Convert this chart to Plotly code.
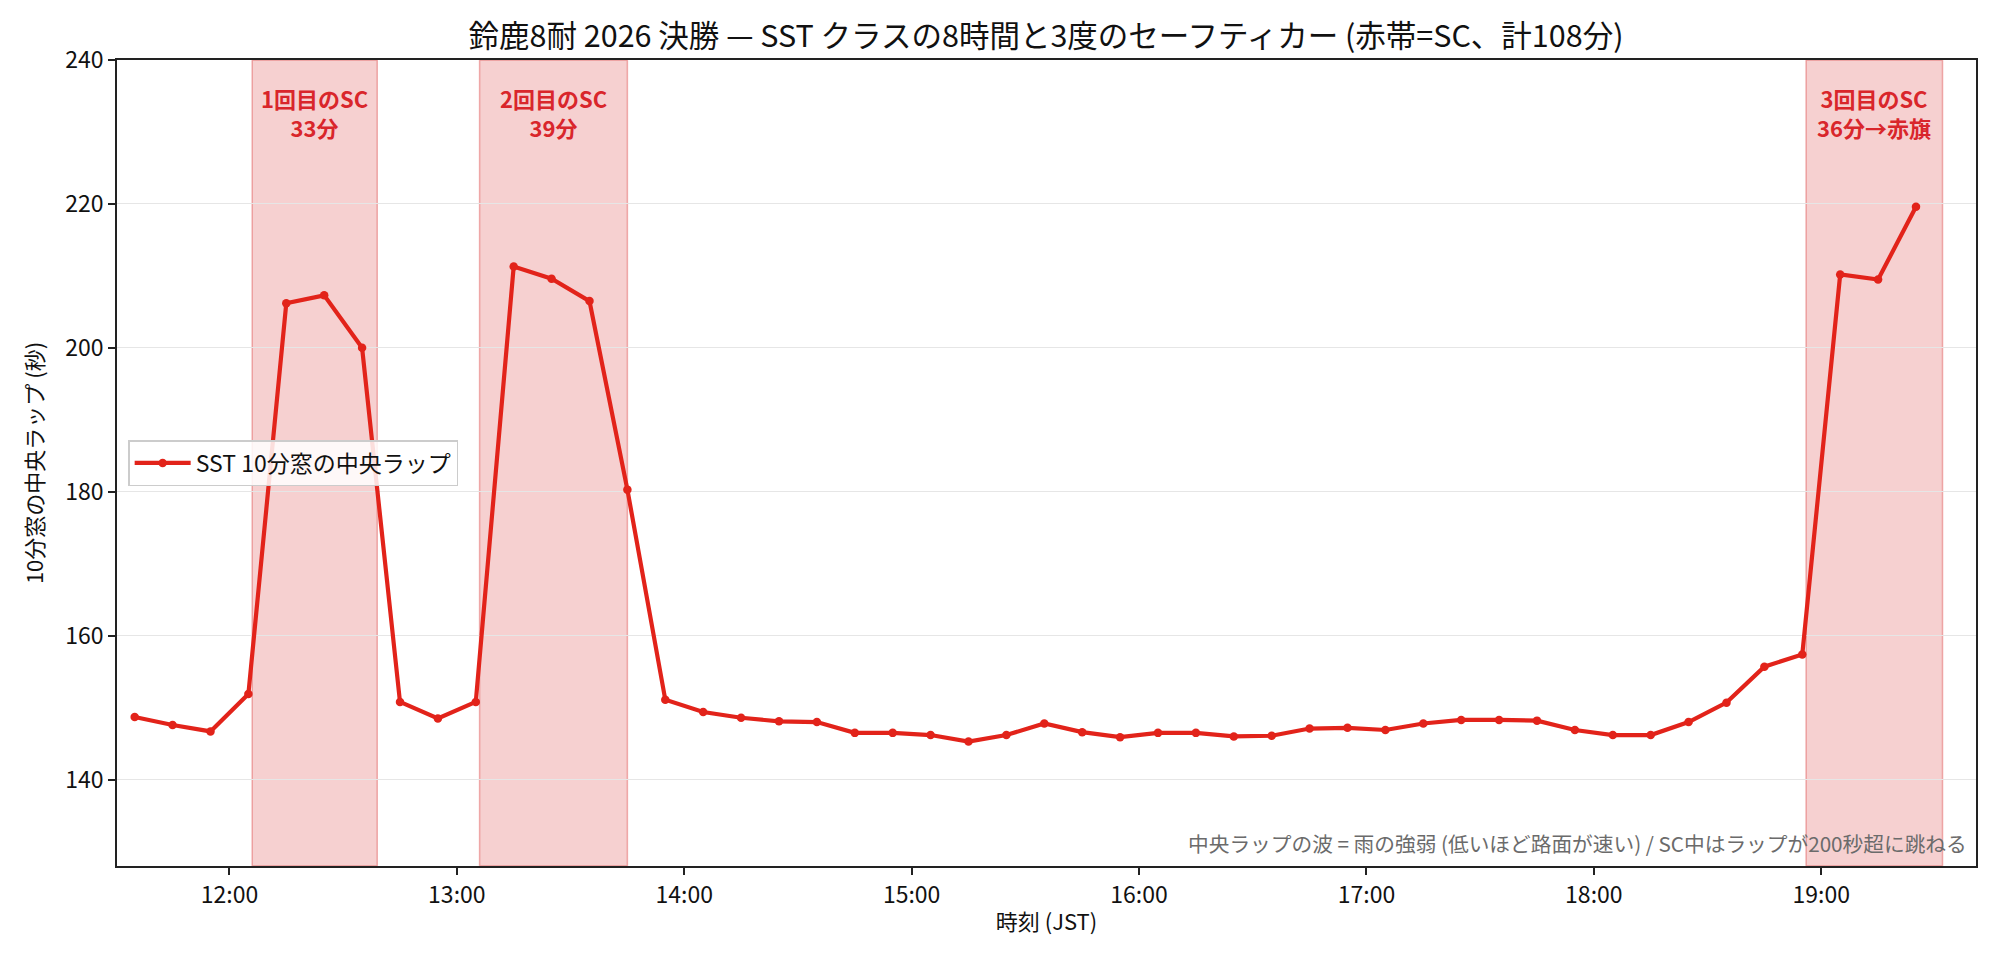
import plotly.graph_objects as go

# 10-minute window centres (JST) and SST median lap (seconds)
times = [
    "11:35", "11:45", "11:55", "12:05", "12:15", "12:25", "12:35", "12:45",
    "12:55", "13:05", "13:15", "13:25", "13:35", "13:45", "13:55", "14:05",
    "14:15", "14:25", "14:35", "14:45", "14:55", "15:05", "15:15", "15:25",
    "15:35", "15:45", "15:55", "16:05", "16:15", "16:25", "16:35", "16:45",
    "16:55", "17:05", "17:15", "17:25", "17:35", "17:45", "17:55", "18:05",
    "18:15", "18:25", "18:35", "18:45", "18:55", "19:05", "19:15", "19:25",
]
median_lap = [
    148.7, 147.6, 146.7, 151.9, 206.2, 207.3, 200.0, 150.8,
    148.5, 150.8, 211.3, 209.6, 206.5, 180.3, 151.1, 149.4,
    148.6, 148.1, 148.0, 146.5, 146.5, 146.2, 145.3, 146.2,
    147.8, 146.6, 145.9, 146.5, 146.5, 146.0, 146.1, 147.1,
    147.2, 146.9, 147.8, 148.3, 148.3, 148.2, 146.9, 146.2,
    146.2, 148.0, 150.7, 155.7, 157.4, 210.2, 209.5, 219.6,
]

# safety car periods
sc_start = ["12:06", "13:06", "18:56"]
sc_end = ["12:39", "13:45", "19:32"]
sc_labels = ["1回目のSC<br>33分", "2回目のSC<br>39分", "3回目のSC<br>36分→赤旗"]

DAY = "2026-07-26 "
RED = "#e2231a"
FONT = "Noto Sans CJK JP"


def ts(t):
    return DAY + t + ":00"


def to_min(t):
    return int(t[:2]) * 60 + int(t[3:])


fig = go.Figure()

for s, e, lab in zip(sc_start, sc_end, sc_labels):
    fig.add_vrect(
        x0=ts(s), x1=ts(e),
        fillcolor="rgba(214,39,40,0.22)",
        line=dict(color="rgba(214,39,40,0.35)", width=1.5),
        layer="below",
    )
    m = (to_min(s) + to_min(e)) / 2
    mid = "%02d:%02d:%02d" % (m // 60, m % 60, round((m % 1) * 60))
    fig.add_annotation(
        x=DAY + mid, y=0.975, xref="x", yref="paper",
        text="<b>" + lab + "</b>", showarrow=False,
        yanchor="top", align="center",
        font=dict(family=FONT, size=22, color="#d9262b"),
    )

fig.add_trace(go.Scatter(
    x=[ts(t) for t in times], y=median_lap,
    mode="lines+markers",
    name="SST 10分窓の中央ラップ",
    line=dict(color=RED, width=4.2),
    marker=dict(color=RED, size=8.5),
))

fig.add_annotation(
    x=0.996, y=0.008, xref="paper", yref="paper",
    text="中央ラップの波 = 雨の強弱 (低いほど路面が速い) / SC中はラップが200秒超に跳ねる",
    showarrow=False, xanchor="right", yanchor="bottom",
    font=dict(family=FONT, size=20.7, color="#6b6b6b"),
)

axis_common = dict(
    showline=True, linecolor="#222", linewidth=1.8, mirror=True,
    ticks="outside", ticklen=7, tickcolor="#222", tickwidth=1.5,
    tickfont=dict(family=FONT, size=23, color="#111"),
    zeroline=False,
)

fig.update_layout(
    width=2000, height=960,
    paper_bgcolor="white", plot_bgcolor="white",
    margin=dict(l=109, r=32, t=52, b=102),
    font=dict(family=FONT, color="#111"),
    title=dict(
        text="鈴鹿8耐 2026 決勝 — SST クラスの8時間と3度のセーフティカー (赤帯=SC、計108分)",
        x=0.519, xanchor="center", y=0.971, yanchor="middle",
        font=dict(family=FONT, size=30.5, color="#111"),
    ),
    xaxis=dict(
        axis_common,
        type="date",
        range=[DAY + "11:30:20", DAY + "19:40:50"],
        dtick=3600000, tick0=DAY + "12:00:00",
        tickformat="%H:%M",
        showgrid=False,
        title=dict(text="時刻 (JST)", font=dict(family=FONT, size=22), standoff=6),
    ),
    yaxis=dict(
        axis_common,
        range=[128, 240],
        tickvals=[140, 160, 180, 200, 220, 240],
        showgrid=True, gridcolor="#e6e6e6", gridwidth=1.3,
        title=dict(text="10分窓の中央ラップ (秒)", font=dict(family=FONT, size=22), standoff=16),
    ),
    legend=dict(
        x=0.006, y=0.5, xanchor="left", yanchor="middle",
        itemwidth=56,
        bgcolor="rgba(255,255,255,0.85)", bordercolor="#cccccc", borderwidth=1.5,
        font=dict(family=FONT, size=23, color="#111"),
    ),
    showlegend=True,
)

fig.write_html("out.html")
